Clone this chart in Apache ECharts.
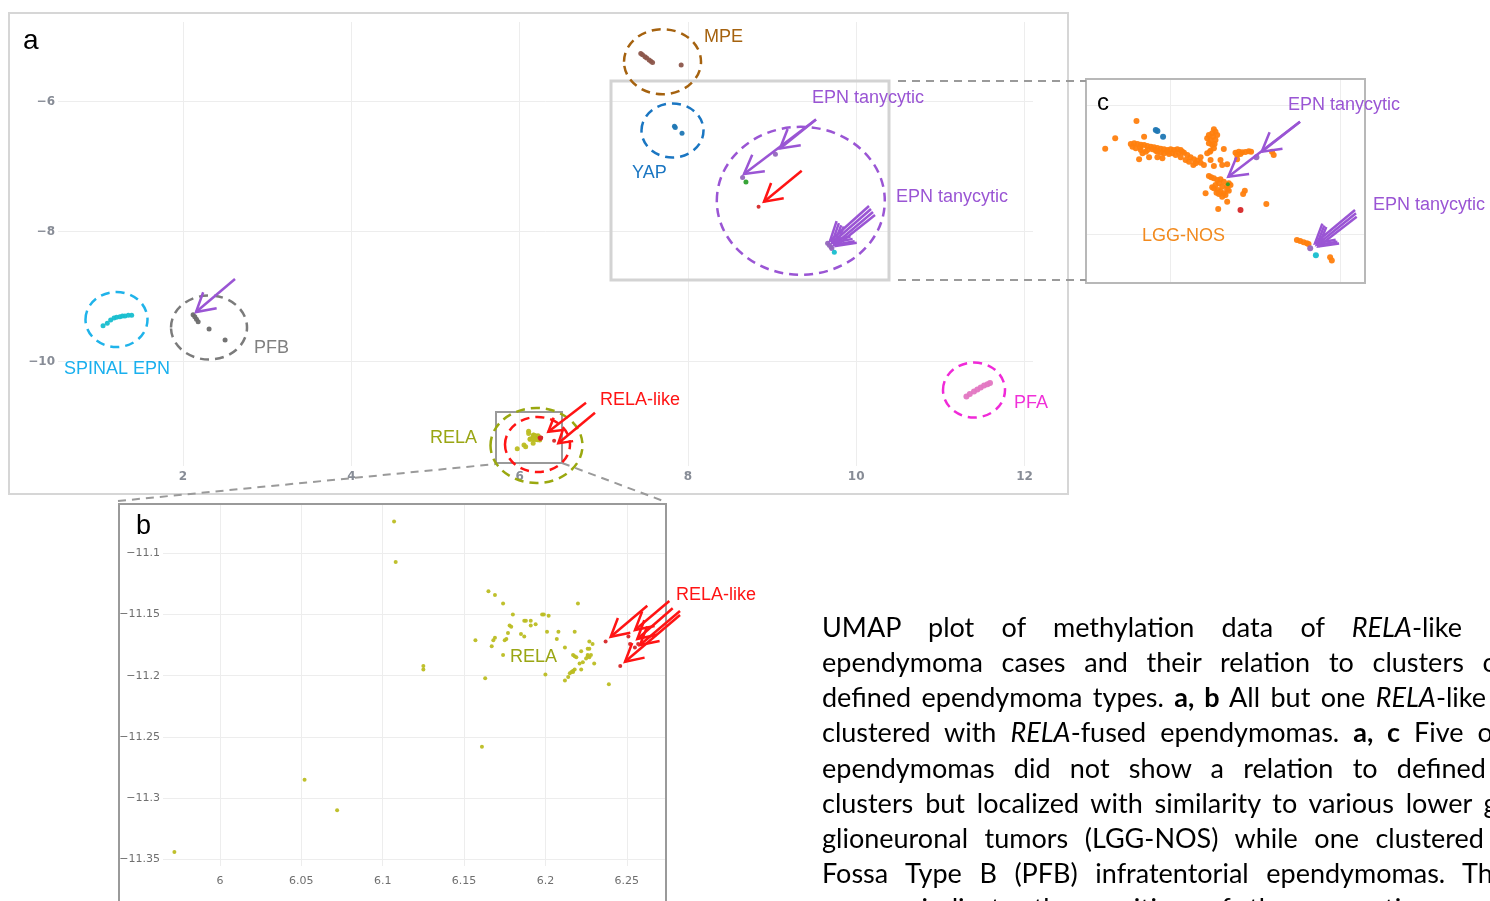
<!DOCTYPE html>
<html><head><meta charset="utf-8">
<script src="https://cdn.jsdelivr.net/npm/echarts@6/dist/echarts.min.js"></script>
<style>
html,body{margin:0;padding:0;background:#fff;}
#chart{position:absolute;left:0;top:0;width:1490px;height:901px;}
#caption{position:absolute;left:0;top:0;width:1490px;height:901px;overflow:hidden;pointer-events:none;font-family:Lato,'Noto Sans',sans-serif;font-size:27px;color:#000;}
.ln{position:absolute;left:822px;white-space:pre;line-height:35px;display:inline-block;}
</style></head><body>
<div id="chart"></div><div id="caption"></div>
<script>
// ---------- Panel a data (UMAP 1 / UMAP 2) ----------
const MPE = [[7.44,-5.26],[7.46,-5.28],[7.49,-5.31],[7.51,-5.33],[7.54,-5.36],[7.56,-5.38],[7.58,-5.40],[7.92,-5.44]];
const YAP = [[7.84,-6.38],[7.85,-6.40],[7.93,-6.49]];
const EPN_TANY = [[9.04,-6.81],[8.65,-7.17],[9.66,-8.18],[9.68,-8.21],[9.70,-8.24],[9.71,-8.26]];
const GREEN_A = [[8.69,-7.24]];
const CYAN_A = [[9.74,-8.32]];
const SPINAL = [[1.05,-9.45],[1.10,-9.41],[1.14,-9.36],[1.18,-9.33],[1.21,-9.32],[1.25,-9.31],[1.28,-9.30],[1.31,-9.30],[1.35,-9.29],[1.39,-9.29]];
const PFB = [[2.12,-9.28],[2.14,-9.31],[2.16,-9.35],[2.18,-9.39],[2.31,-9.50],[2.50,-9.67]];
const PFA = [[11.31,-10.54],[11.35,-10.50],[11.40,-10.46],[11.44,-10.43],[11.48,-10.40],[11.52,-10.37],[11.56,-10.35],[11.59,-10.33]];
// ---------- RELA cluster (panels a and b) ----------
const RELA = [[6.107,-11.074],[6.108,-11.107],[6.052,-11.285],[6.072,-11.310],[5.972,-11.344],
[6.125,-11.192],[6.125,-11.195],[6.165,-11.131],[6.169,-11.134],[6.174,-11.141],[6.220,-11.141],[6.180,-11.150],
[6.198,-11.150],[6.199,-11.150],[6.202,-11.151],[6.187,-11.155],[6.188,-11.155],[6.191,-11.155],[6.191,-11.159],
[6.194,-11.158],[6.178,-11.159],[6.179,-11.160],[6.177,-11.165],[6.185,-11.166],[6.187,-11.168],[6.201,-11.164],
[6.208,-11.164],[6.218,-11.164],[6.157,-11.171],[6.169,-11.169],[6.168,-11.171],[6.176,-11.170],[6.175,-11.171],
[6.207,-11.170],[6.167,-11.176],[6.174,-11.183],[6.212,-11.177],[6.227,-11.172],[6.229,-11.174],[6.226,-11.178],
[6.227,-11.178],[6.222,-11.180],[6.217,-11.183],[6.218,-11.184],[6.219,-11.185],[6.226,-11.183],[6.228,-11.183],
[6.227,-11.185],[6.226,-11.184],[6.225,-11.186],[6.223,-11.189],[6.221,-11.190],[6.230,-11.190],[6.218,-11.195],
[6.217,-11.196],[6.216,-11.197],[6.215,-11.198],[6.217,-11.197],[6.222,-11.195],[6.214,-11.201],[6.212,-11.204],
[6.200,-11.199],[6.163,-11.202],[6.239,-11.207],[6.161,-11.258]];
const RELA_LIKE = [[6.237,-11.172],[6.246,-11.192],[6.251,-11.168],[6.252,-11.174],[6.255,-11.177],[6.257,-11.174],[6.41,-11.22],[8.84,-7.62]];
// ---------- Panel c data (zoomed embedding incl. LGG) ----------
const LGG = [[9.596,-6.247],[9.345,-6.515],[9.227,-6.675],[9.686,-6.490],
[9.529,-6.603],[9.569,-6.593],[9.608,-6.603],[9.647,-6.613],[9.686,-6.619],[9.725,-6.634],[9.765,-6.644],[9.804,-6.655],
[9.843,-6.665],[9.882,-6.675],[9.922,-6.686],[9.961,-6.696],[10.000,-6.686],[10.039,-6.696],[10.078,-6.686],[10.118,-6.696],
[10.157,-6.737],[10.196,-6.773],[10.235,-6.809],[10.275,-6.840],[10.314,-6.861],[10.353,-6.892],[9.647,-6.696],[9.667,-6.747],
[9.706,-6.722],[9.745,-6.809],[9.843,-6.722],[9.922,-6.747],[9.980,-6.758],[10.020,-6.747],[10.059,-6.773],[10.118,-6.809],
[10.176,-6.851],[10.216,-6.876],[10.267,-6.928],[10.294,-6.902],[10.392,-6.928],[10.471,-6.851],[10.510,-6.943],[10.353,-6.809],
[9.627,-6.840],[9.902,-6.825],[9.843,-6.809],[10.098,-6.737],[10.137,-6.722],[9.549,-6.644],[9.588,-6.670],[9.639,-6.655],
[9.725,-6.696],[9.784,-6.686],[9.824,-6.706],[9.882,-6.737],[9.961,-6.722],
[10.510,-6.376],[10.529,-6.412],[10.490,-6.438],[10.451,-6.464],[10.431,-6.515],[10.471,-6.541],[10.502,-6.490],[10.529,-6.541],
[10.451,-6.593],[10.490,-6.619],[10.510,-6.670],[10.471,-6.706],[10.549,-6.464],[10.518,-6.603],[10.463,-6.722],[10.431,-6.747],
[10.627,-6.680],[10.588,-6.851],[10.608,-6.928],
[10.451,-7.098],[10.478,-7.119],[10.510,-7.134],[10.549,-7.160],[10.588,-7.149],[10.627,-7.186],[10.569,-7.211],[10.529,-7.237],
[10.608,-7.263],[10.667,-7.253],[10.706,-7.237],[10.686,-7.211],[10.510,-7.289],[10.557,-7.314],[10.588,-7.340],[10.627,-7.366],
[10.647,-7.392],[10.608,-7.418],[10.569,-7.376],[10.667,-7.304],[10.541,-7.356],[10.490,-7.273],[10.686,-7.325],[10.412,-7.366],
[10.561,-7.608],[10.875,-7.325],[10.855,-7.376],[11.129,-7.531],[10.667,-7.495],
[10.765,-6.737],[10.804,-6.722],[10.843,-6.732],[10.882,-6.727],[10.922,-6.716],[10.949,-6.722],[10.784,-6.773],[10.824,-6.758],
[11.216,-6.773],[11.196,-6.722],[10.667,-6.918],[10.784,-6.840],
[11.490,-8.088],[11.529,-8.103],[11.569,-8.124],[11.608,-8.139],[11.627,-8.149],[11.882,-8.356],[11.902,-8.407]];
const YAP_C = [[9.824,-6.387],[9.843,-6.402],[9.910,-6.490]];
const EPN_TANY_C = [[11.012,-6.809],[11.647,-8.216]];
const GREEN_C = [[10.675,-7.227]];
const RED_C = [[10.824,-7.624]];
const CYAN_C = [[11.714,-8.325]];
// ---------- tick labels ----------
const A_XTICKS = [2,4,6,8,10,12];
const A_YTICKS = [-10,-8,-6];
const B_XTICKS = [6,6.05,6.1,6.15,6.2,6.25];
const B_YTICKS = [-11.35,-11.3,-11.25,-11.2,-11.15,-11.1];
const C_XTICKS = [10,12];
const C_YTICKS = [-8,-6];

const minus = s => String(s).replace('-', '\u2212');
const fmtB = v => minus(String(+(+v).toFixed(2)));

const chart = echarts.init(document.getElementById('chart'), null, {renderer:'canvas'});

function axis(min, max, ticks, show, lab, gridIndex, isY) {
  return {
    type:'value', gridIndex, min, max,
    axisLine:{show:false}, axisTick:{show:false, customValues:ticks},
    splitLine:{show:true, lineStyle:{color:'#ededed', width:1}},
    axisLabel: show ? Object.assign({customValues:ticks}, lab) : {show:false, customValues:ticks}
  };
}
const labA = {color:'#878c96', fontSize:12, fontWeight:'bold', fontFamily:'DejaVu Sans', formatter:v=>minus(v)};
const labAX = Object.assign({}, labA, {margin:5});
const labAY = Object.assign({}, labA, {margin:3});
const labB = {color:'#6f6f6f', fontSize:11, fontFamily:'DejaVu Sans', formatter:fmtB};

function sc(name, data, color, size, xi) {
  return {type:'scatter', name, data, xAxisIndex:xi, yAxisIndex:xi, symbol:'circle', symbolSize:size,
    itemStyle:{color, opacity:0.95}, clip:true, silent:true, z:3};
}

// ---------- annotation helpers ----------
function arrow(x1,y1,x2,y2,color,L,spread,w){
  const a = Math.atan2(y1-y2, x1-x2);
  const p1=[x2+L*Math.cos(a+spread), y2+L*Math.sin(a+spread)];
  const p2=[x2+L*Math.cos(a-spread), y2+L*Math.sin(a-spread)];
  return [
    {type:'polyline', z:10, shape:{points:[[x1,y1],[x2,y2]]}, style:{stroke:color, lineWidth:w, fill:null}},
    {type:'polyline', z:10, shape:{points:[p1,[x2,y2],p2]}, style:{stroke:color, lineWidth:w, fill:null}}
  ];
}
function ell(cx,cy,rx,ry,color){
  return {type:'ellipse', z:9, shape:{cx,cy,rx,ry}, style:{fill:null, stroke:color, lineWidth:2.5, lineDash:[9,6]}};
}
function txt(x,y,t,color,size){
  return {type:'text', z:11, x, y, style:{text:t, fill:color, font:`${size||18}px "Liberation Sans", Arial, sans-serif`, textAlign:'left', textVerticalAlign:'middle'}};
}
const PURPLE='#9a55d4', RED='#ff1414';
let G = [];
// panel frames
G.push({type:'rect', z:8, shape:{x:9,y:13,width:1059,height:481}, style:{fill:null, stroke:'#d6d6d6', lineWidth:2}});
G.push({type:'polyline', z:8, shape:{points:[[119,905],[119,504],[666,504],[666,905]]}, style:{fill:null, stroke:'#9a9a9a', lineWidth:2}});
G.push({type:'rect', z:8, shape:{x:1086,y:79,width:279,height:204}, style:{fill:null, stroke:'#b8b8b8', lineWidth:2}});
G.push({type:'rect', z:8, shape:{x:611,y:81,width:278,height:199}, style:{fill:null, stroke:'#d3d3d3', lineWidth:3}});
G.push({type:'rect', z:8, shape:{x:496,y:412,width:66,height:51}, style:{fill:null, stroke:'#9a9a9a', lineWidth:2}});
[[[898,81],[1086,81]],[[898,280],[1086,280]],[[118,501],[496,464]],[[562,463],[666,502]]].forEach(p=>{
  G.push({type:'polyline', z:8, shape:{points:p}, style:{fill:null, stroke:'#9a9a9a', lineWidth:2, lineDash:[8,6]}});
});
// ellipses
G.push(ell(662.5,61.7,38.5,32.5,'#a5620f'));
G.push(ell(672.5,130.5,31,27,'#1a76c2'));
G.push(ell(800.8,200.8,84,74,PURPLE));
G.push(ell(116.5,319.5,31,27.5,'#1fb3ea'));
G.push(ell(209,327.5,38,32,'#7b7b7b'));
G.push(ell(974,390,31,27.5,'#f02ad8'));
G.push(ell(536.5,445.5,46,37.5,'#9aa80f'));
G.push(ell(537.5,444.5,32.5,27.5,RED));
// arrows
[[816,119.5,744,174],[816,119.5,780,148.5],[235,279,196,312],
 [869,206,830,241],[871,209,832,243],[873,212,834,245],[875,215,836,246],
 [1300,121.7,1228.3,176.7],[1300,121.7,1261.7,151.7],
 [1355,210,1315,243.3],[1356,213.3,1316.7,245],[1356.7,216.7,1318.3,246.5]].forEach(a=>{
  G = G.concat(arrow(a[0],a[1],a[2],a[3],PURPLE,21,0.52,2.5));
});
[[801.7,170.7,764,201.7]].forEach(a=>{ G = G.concat(arrow(a[0],a[1],a[2],a[3],RED,20,0.52,2.5)); });
[[586,402.7,548.3,431.7],[595,412.7,558.3,443.3]].forEach(a=>{ G = G.concat(arrow(a[0],a[1],a[2],a[3],RED,15,0.55,2.5)); });
[[647.3,605.7,610.7,636.7],[669.3,601,635,630],[672.7,608.3,637.3,639],[680,611,640,645],[680,615,625,661.7]].forEach(a=>{
  G = G.concat(arrow(a[0],a[1],a[2],a[3],RED,20,0.5,2.5));
});
// labels
G.push(txt(23,41,'a','#000',28));
G.push(txt(136,527,'b','#000',27));
G.push(txt(1097,103,'c','#000',24));
G.push(txt(704,37.5,'MPE','#a5620f'));
G.push(txt(632,173.5,'YAP','#1a76c2'));
G.push(txt(812,98,'EPN tanycytic',PURPLE));
G.push(txt(896,197,'EPN tanycytic',PURPLE));
G.push(txt(64,369.5,'SPINAL EPN','#1ab0ee'));
G.push(txt(254,348,'PFB','#808080'));
G.push(txt(1014,403,'PFA','#f030d8'));
G.push(txt(430,438,'RELA','#9aa614'));
G.push(txt(600,400,'RELA-like',RED));
G.push(txt(1288,105,'EPN tanycytic',PURPLE));
G.push(txt(1373,205,'EPN tanycytic',PURPLE));
G.push(txt(1142,236,'LGG-NOS','#f28a1e'));
G.push(txt(510,657,'RELA','#9aa614'));
G.push(txt(676,595,'RELA-like',RED));

chart.setOption({
  animation:false,
  backgroundColor:'#ffffff',
  grid:[
    {left:58, right:457, top:22, bottom:435},
    {left:163, right:825, top:505, bottom:35},
    {left:1087, right:126, top:80, bottom:619}
  ],
  xAxis:[
    axis(0.5145, 12.101, A_XTICKS, true, labAX, 0),
    axis(5.965, 6.2735, B_XTICKS, true, Object.assign({margin:10}, labB), 1),
    axis(9.012, 12.282, C_XTICKS, false, null, 2)
  ],
  yAxis:[
    axis(-11.608, -4.777, A_YTICKS, true, labAY, 0, true),
    axis(-11.3555, -11.0605, B_YTICKS, true, Object.assign({margin:3}, labB), 1, true),
    axis(-8.738, -5.613, C_YTICKS, false, null, 2, true)
  ],
  series:[
    sc('MPE', MPE, '#8c564b', 5, 0),
    sc('YAP', YAP, '#1f77b4', 5, 0),
    sc('EPN tanycytic', EPN_TANY, '#9467bd', 5, 0),
    sc('other', GREEN_A, '#2ca02c', 5, 0),
    sc('other2', CYAN_A, '#17becf', 5, 0),
    sc('SPINAL EPN', SPINAL, '#17becf', 5, 0),
    sc('PFB', PFB, '#6b6b6b', 5, 0),
    sc('PFA', PFA, '#e377c2', 6, 0),
    sc('RELA', RELA, '#bcbd22', 5, 0),
    sc('RELA-like', RELA_LIKE, '#d62728', 4, 0),
    sc('RELA b', RELA, '#bcbd22', 4, 1),
    sc('RELA-like b', RELA_LIKE, '#d62728', 4, 1),
    sc('LGG-NOS', LGG, '#ff7f0e', 6, 2),
    sc('YAP c', YAP_C, '#1f77b4', 6, 2),
    sc('EPN tanycytic c', EPN_TANY_C, '#9467bd', 6, 2),
    sc('green c', GREEN_C, '#2ca02c', 4, 2),
    sc('red c', RED_C, '#d62728', 6, 2),
    sc('cyan c', CYAN_C, '#17becf', 6, 2)
  ],
  graphic:{elements:G}
});

// ---------- caption (justified lines) ----------
const CAPTION = [
  ['UMAP plot of methylation data of <i>RELA</i>-like', 640],
  ['ependymoma cases and their relation to clusters of', 685],
  ['defined ependymoma types. <b>a, b</b> All but one <i>RELA</i>-like', 664],
  ['clustered with <i>RELA</i>-fused ependymomas. <b>a, c</b> Five of', 680],
  ['ependymomas did not show a relation to defined', 664],
  ['clusters but localized with similarity to various lower grade', 728],
  ['glioneuronal tumors (LGG-NOS) while one clustered', 662],
  ['Fossa Type B (PFB) infratentorial ependymomas. The', 685],
  ['arrows indicate the position of the respective cases', 690]
];
const cap = document.getElementById('caption');
CAPTION.forEach((c, i) => {
  const d = document.createElement('div');
  d.className = 'ln';
  d.innerHTML = c[0];
  d.style.top = (636.7 + 35.2*i - 28) + 'px';
  cap.appendChild(d);
  const w = d.getBoundingClientRect().width;
  const gaps = (d.textContent.match(/ /g) || []).length;
  d.style.wordSpacing = ((c[1] - w) / gaps) + 'px';
});
</script></body></html>
